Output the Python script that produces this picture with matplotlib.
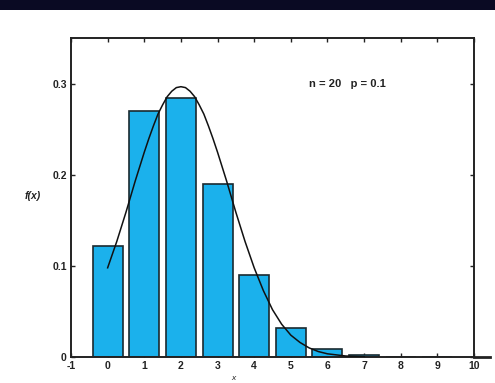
import matplotlib.pyplot as plt
from matplotlib.patches import Rectangle

# bar heights
x_vals = [0, 1, 2, 3, 4, 5, 6, 7, 8, 9]
f_vals = [0.122, 0.270, 0.285, 0.190, 0.090, 0.032, 0.009, 0.002, 0.0004, 0.0001]

# smooth curve points
curve_x = [0, 0.25, 0.5, 0.75, 1.0, 1.125, 1.25, 1.375, 1.5, 1.625, 1.75, 1.875, 2.0,
           2.125, 2.25, 2.375, 2.5, 2.625, 2.75, 2.875, 3.0,
           3.25, 3.5, 3.75, 4.0, 4.25, 4.5, 4.75, 5.0, 5.25, 5.5, 5.75, 6.0, 6.5, 7.0]
curve_y = [0.098, 0.127, 0.159, 0.193, 0.225, 0.240, 0.254, 0.267, 0.277, 0.286, 0.292,
           0.296, 0.297, 0.296, 0.292, 0.286, 0.277, 0.267, 0.254, 0.240, 0.225,
           0.193, 0.159, 0.127, 0.098, 0.073, 0.052, 0.036,
           0.024, 0.016, 0.010, 0.006, 0.0035, 0.0011, 0.0003]

xticks = list(range(-1, 11))
yticks = [0, 0.1, 0.2, 0.3]
ytick_labels = ["0", "0.1", "0.2", "0.3"]

plt.rcParams['font.family'] = ['Liberation Sans', 'DejaVu Sans']

fig = plt.figure(figsize=(4.95, 3.83), dpi=100)
fig.patch.set_facecolor('white')
# dark band at the top
fig.patches.append(Rectangle((0, 1 - 10 / 383), 1, 10 / 383, transform=fig.transFigure,
                             facecolor='#0a0a23', edgecolor='none', zorder=0))

ax = fig.add_axes([71 / 495, 1 - 357 / 383, 403 / 495, 319 / 383])
ax.bar(x_vals, f_vals, width=0.82, color='#1bb1ec', edgecolor='#1a2a30', linewidth=1.2, zorder=2)
ax.plot(curve_x, curve_y, color='#111111', linewidth=1.1, zorder=3)

ax.set_xlim(-1, 10)
ax.set_ylim(0, 0.3505)
ax.set_xticks(xticks)
ax.set_xticklabels([str(t) for t in xticks])
ax.set_yticks(yticks)
ax.set_yticklabels(ytick_labels)
ax.tick_params(direction='in', top=True, right=True, length=3, width=1,
               labelsize=7.5, colors='#222222', pad=3)
for lab in ax.get_xticklabels() + ax.get_yticklabels():
    lab.set_fontweight('bold')
for s in ax.spines.values():
    s.set_linewidth(1.4)
    s.set_color('#222222')
# bottom line runs past the right frame
ax.plot([1.0, 1.04], [0, 0], transform=ax.transAxes, color='#222222',
        linewidth=2, clip_on=False)

ax.text(5.5, 0.30, "n = 20   p = 0.1", fontsize=8, fontweight='bold', color='#222222',
        va='center', ha='left')
fig.text(33 / 495, 1 - 196 / 383, "f(x)", fontsize=7.5, style='italic', fontweight='bold',
         color='#222222', ha='center', va='center')
fig.text(233 / 495, 1 / 383, "x", fontsize=6, style='italic', color='#222222',
         ha='center', va='bottom')

fig.savefig('out.png', dpi=100)
